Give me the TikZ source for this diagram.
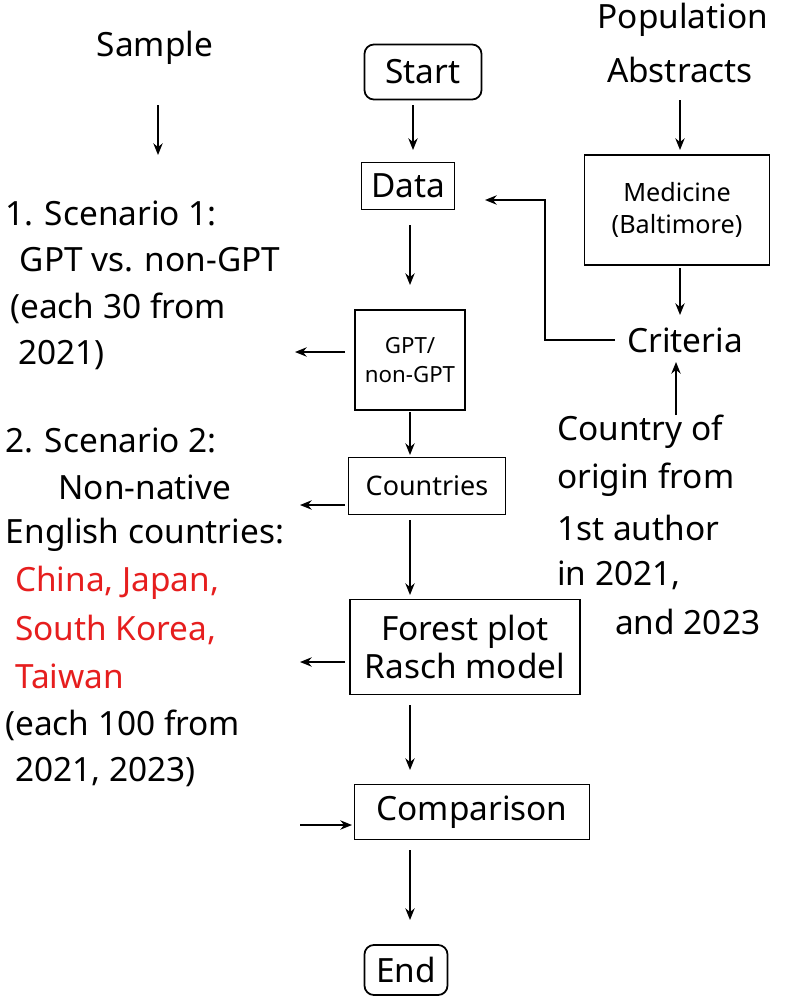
\documentclass[tikz,border=0pt]{standalone}
\usepackage{fontspec}
\setmainfont{Noto Sans}
\usetikzlibrary{arrows.meta}
\definecolor{myred}{RGB}{230,30,30}
\begin{document}
\begin{tikzpicture}[x=0.03cm,y=-0.03cm,
  big/.style={font=\fontsize{28.5}{33}\selectfont,inner sep=0pt},
  mid/.style={font=\fontsize{23}{27}\selectfont,inner sep=0pt},
  small/.style={font=\fontsize{19}{24}\selectfont,inner sep=0pt,align=center},
  box/.style={draw,line width=1.5pt},
  arr/.style={-{Stealth[length=10pt,width=8pt]},line width=1.3pt}]
\useasboundingbox (0,0) rectangle (800,1006);
% centre column
\node[box,rounded corners=8pt,minimum width=117*0.03cm,minimum height=55*0.03cm] (start) at (423,72) {};
\node[big] at (start) {Start};
\node[box,minimum width=93*0.03cm,minimum height=47*0.03cm] (data) at (408,186) {};
\node[big] at (data) {Data};
\node[box,minimum width=110*0.03cm,minimum height=100*0.03cm] (gpt) at (410,360) {};
\node[small] at (gpt) {GPT/\\non-GPT};
\node[box,minimum width=157*0.03cm,minimum height=57*0.03cm] (ctry) at (427,486) {};
\node[mid] at (ctry) {Countries};
\node[box,minimum width=230*0.03cm,minimum height=95*0.03cm] (forest) at (465,647) {};
\node[big,align=center] at (forest) {Forest plot\\Rasch model};
\node[box,minimum width=235*0.03cm,minimum height=55*0.03cm] (comp) at (472,812) {};
\node[big] at (comp) {Comparison};
\node[box,rounded corners=8pt,minimum width=83*0.03cm,minimum height=50*0.03cm] (end) at (406,970) {};
\node[big] at (end) {End};
\draw[arr] (413,105) -- (413,150);
\draw[arr] (410,225) -- (410,285);
\draw[arr] (410,412) -- (410,455);
\draw[arr] (410,520) -- (410,595);
\draw[arr] (410,705) -- (410,770);
\draw[arr] (410,850) -- (410,920);
% left column
\node[big] (sample) at (155,48) {Sample};
\draw[arr] (158,105) -- (158,155);
\node[big,anchor=west] at (5,213) {1. Scenario 1:};
\node[big] at (150,260) {GPT vs. non-GPT};
\node[big,anchor=west] at (10,308) {(each 30 from};
\node[big,anchor=west] at (18,355) {2021)};
\node[big,anchor=west] at (5,440) {2. Scenario 2:};
\node[big] at (145,487) {Non-native};
\node[big] at (145,535) {English countries:};
\node[big,anchor=west,text=myred] at (15,583) {China, Japan,};
\node[big,anchor=west,text=myred] at (15,630) {South Korea,};
\node[big,anchor=west,text=myred] at (15,676) {Taiwan};
\node[big,anchor=west] at (5,725) {(each 100 from};
\node[big,anchor=west] at (15,772) {2021, 2023)};
\draw[arr] (345,352) -- (295,352);
\draw[arr] (345,505) -- (300,505);
\draw[arr] (345,662) -- (300,662);
\draw[arr] (300,825) -- (352,825);
% right column
\node[big] at (683,20) {Population};
\node[big] at (680,70) {Abstracts};
\draw[arr] (680,100) -- (680,150);
\node[box,minimum width=185*0.03cm,minimum height=110*0.03cm] (med) at (677,210) {};
\node[mid,align=center,font=\fontsize{21.5}{28}\selectfont] at (med) {Medicine\\(Baltimore)};
\draw[arr] (680,268) -- (680,315);
\node[big] (crit) at (685,340) {Criteria};
\draw[arr] (615,340) -- (545,340) -- (545,200) -- (485,200);
\draw[arr] (676,415) -- (676,362);
\node[big,anchor=west] at (557,432) {Country of};
\node[big,anchor=west] at (557,480) {origin from};
\node[big,anchor=west] at (557,528) {1st author};
\node[big,anchor=west] at (557,575) {in 2021,};
\node[big,anchor=west] at (615,622) {and 2023};
\end{tikzpicture}
\end{document}
